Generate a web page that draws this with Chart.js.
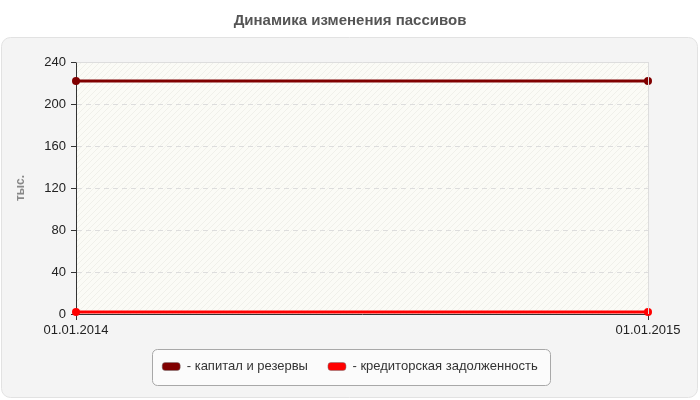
<!DOCTYPE html>
<html>
<head>
<meta charset="utf-8">
<script src="https://cdn.jsdelivr.net/npm/chart.js@4.4.1/dist/chart.umd.min.js"></script>
<style>
html,body{margin:0;padding:0;background:#ffffff;}
#wrap{position:relative;width:700px;height:400px;}
</style>
</head>
<body>
<div id="wrap"><canvas id="c" width="700" height="400"></canvas></div>
<script>
const categories = ['01.01.2014', '01.01.2015'];
const capitalReserves = [222, 222];
const payables = [2, 2];
const seriesNames = ['капитал и резервы', 'кредиторская задолженность'];
const seriesColors = ['#800000', '#ff0000'];
const yTicks = [0, 40, 80, 120, 160, 200, 240];

const FONT = "'Liberation Sans', Arial, sans-serif";

function makeHatch() {
  const p = document.createElement('canvas');
  p.width = 6; p.height = 6;
  const g = p.getContext('2d');
  g.fillStyle = '#fbfbf6';
  g.fillRect(0, 0, 6, 6);
  g.strokeStyle = '#f0f0ea';
  g.lineWidth = 1;
  g.beginPath();
  g.moveTo(0, 6); g.lineTo(6, 0);
  g.moveTo(-1, 1); g.lineTo(1, -1);
  g.moveTo(5, 7); g.lineTo(7, 5);
  g.stroke();
  return p;
}

function roundRect(ctx, x, y, w, h, r) {
  ctx.beginPath();
  ctx.moveTo(x + r, y);
  ctx.lineTo(x + w - r, y);
  ctx.arcTo(x + w, y, x + w, y + r, r);
  ctx.lineTo(x + w, y + h - r);
  ctx.arcTo(x + w, y + h, x + w - r, y + h, r);
  ctx.lineTo(x + r, y + h);
  ctx.arcTo(x, y + h, x, y + h - r, r);
  ctx.lineTo(x, y + r);
  ctx.arcTo(x, y, x + r, y, r);
  ctx.closePath();
}

const backgroundPlugin = {
  id: 'bgPanel',
  beforeDraw(chart) {
    const ctx = chart.ctx;
    const a = chart.chartArea;
    ctx.save();
    roundRect(ctx, 1.5, 37.5, 696, 360, 9);
    ctx.fillStyle = '#f4f4f4';
    ctx.fill();
    ctx.strokeStyle = '#e2e2e2';
    ctx.lineWidth = 1;
    ctx.stroke();
    const pat = ctx.createPattern(makeHatch(), 'repeat');
    ctx.fillStyle = pat;
    ctx.fillRect(a.left, a.top, a.right - a.left, a.bottom - a.top);
    const lg = chart.legend;
    if (lg && lg.legendHitBoxes && lg.legendHitBoxes.length) {
      let l = Infinity, r = -Infinity, t = Infinity, b = -Infinity;
      lg.legendHitBoxes.forEach(h => {
        l = Math.min(l, h.left); r = Math.max(r, h.left + h.width);
        t = Math.min(t, h.top); b = Math.max(b, h.top + h.height);
      });
      const cy = (t + b) / 2;
      roundRect(ctx, Math.round(l - 10) + 0.5, Math.round(cy - 18) + 0.5, Math.round(r - l + 22), 36, 5);
      ctx.fillStyle = '#fbfbfb';
      ctx.fill();
      ctx.strokeStyle = '#a8a8a8';
      ctx.stroke();
    }
    ctx.restore();
  },
  afterDatasetsDraw(chart) {
    const ctx = chart.ctx;
    const a = chart.chartArea;
    ctx.save();
    ctx.strokeStyle = '#dddddd';
    ctx.lineWidth = 1;
    ctx.beginPath();
    ctx.moveTo(Math.round(a.left) + 0.5, Math.round(a.top) + 0.5);
    ctx.lineTo(Math.round(a.right) + 0.5, Math.round(a.top) + 0.5);
    ctx.lineTo(Math.round(a.right) + 0.5, Math.round(a.bottom));
    ctx.stroke();
    ctx.restore();
  }
};

function ds(i, values) {
  return {
    label: seriesNames[i],
    data: values,
    borderColor: seriesColors[i],
    backgroundColor: seriesColors[i],
    borderWidth: 3,
    pointRadius: 4,
    pointHoverRadius: 4,
    pointBackgroundColor: seriesColors[i],
    pointBorderWidth: 0,
    fill: false,
    clip: 6
  };
}

const ctx = document.getElementById('c').getContext('2d');
new Chart(ctx, {
  type: 'line',
  data: {
    labels: categories,
    datasets: [ds(0, capitalReserves), ds(1, payables)]
  },
  options: {
    responsive: false,
    animation: false,
    devicePixelRatio: 1,
    layout: { padding: { left: 0, right: 0, top: 0, bottom: 17 } },
    plugins: {
      title: {
        display: true,
        text: 'Динамика изменения пассивов',
        color: '#555555',
        font: { family: FONT, size: 15, weight: 'bold' },
        padding: { top: 12, bottom: 32 }
      },
      legend: {
        display: true,
        position: 'bottom',
        labels: {
          color: '#333333',
          font: { family: FONT, size: 13 },
          boxWidth: 18,
          boxHeight: 8,
          useBorderRadius: true,
          borderRadius: 3,
          padding: 20,
          generateLabels(chart) {
            return chart.data.datasets.map((d, i) => ({
              text: '- ' + d.label,
              fillStyle: d.backgroundColor,
              strokeStyle: '#777777',
              lineWidth: 0.5,
              fontColor: '#333333',
              hidden: false,
              datasetIndex: i,
              borderRadius: 3
            }));
          }
        }
      },
      tooltip: { enabled: false }
    },
    scales: {
      x: {
        type: 'category',
        offset: false,
        grid: {
          display: true,
          color: '#dddddd',
          tickColor: '#333333',
          tickLength: 6,
          drawOnChartArea: true
        },
        border: { display: true, color: '#333333', width: 1 },
        ticks: {
          color: '#222222',
          font: { family: FONT, size: 13 },
          padding: 3,
          maxRotation: 0,
          autoSkip: false
        },
        afterFit(scale) {
          scale.paddingLeft = 0;
          scale.paddingRight = 52;
          scale.height = 26;
        }
      },
      y: {
        type: 'linear',
        min: 0,
        max: 240,
        afterBuildTicks(scale) {
          scale.ticks = yTicks.map(v => ({ value: v }));
        },
        grid: {
          display: true,
          color: '#dddddd',
          tickColor: '#333333',
          tickLength: 5,
          tickBorderDash: []
        },
        border: { display: true, color: '#333333', width: 1, dash: [5, 4] },
        ticks: {
          color: '#222222',
          font: { family: FONT, size: 13 },
          padding: 5
        },
        title: {
          display: true,
          text: 'тыс.',
          color: '#888888',
          font: { family: FONT, size: 12, weight: 'bold' },
          padding: { top: 13, bottom: 0 }
        },
        afterFit(scale) {
          scale.width = 76;
        }
      }
    }
  },
  plugins: [backgroundPlugin]
});
</script>
</body>
</html>
